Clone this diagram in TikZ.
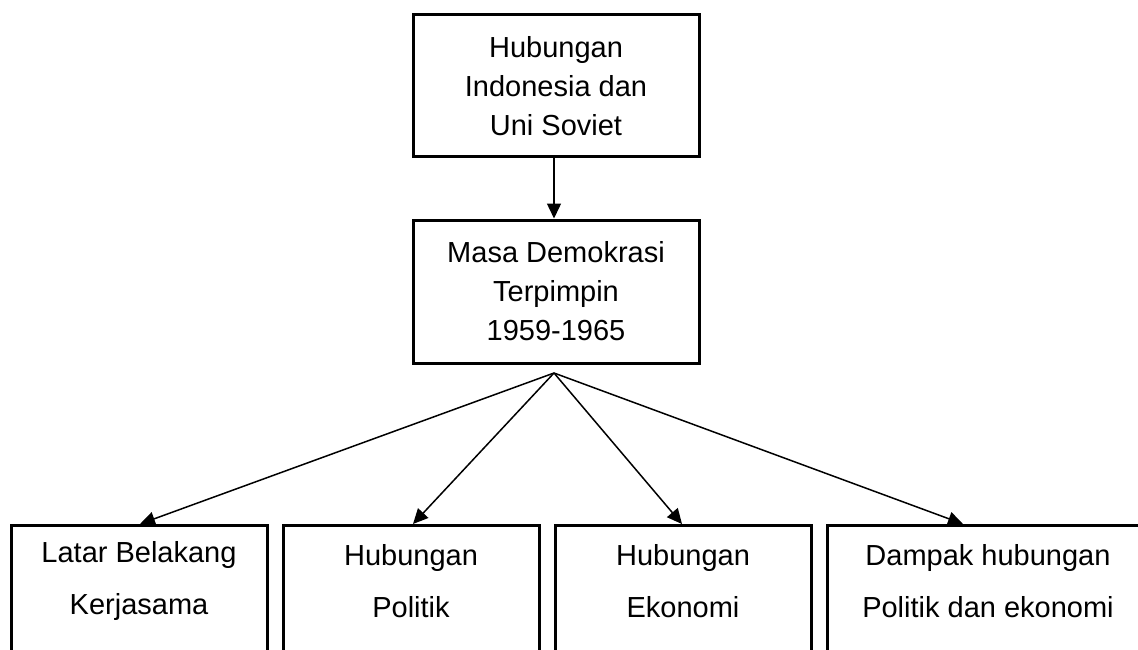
\documentclass[tikz,border=0pt]{standalone}
\usepackage{fontspec}
\setmainfont{Liberation Sans}
\usetikzlibrary{arrows.meta,calc}
\begin{document}
\begin{tikzpicture}[x=1pt,y=-1pt,
  box/.style={draw=black,line width=3pt,rectangle,inner sep=0pt,align=center,
    font=\fontsize{29}{39}\selectfont},
  bottxt/.style={inner sep=0pt,align=center,font=\fontsize{29}{52}\selectfont},
  conn/.style={line width=1.5pt,-{Triangle[length=15pt,width=14pt]}}]
\useasboundingbox (0,0) rectangle (1138,650);
\clip (0,0) rectangle (1138,650);
\node[box,minimum width=286pt,minimum height=142pt] (top) at (556,86)
  {Hubungan\\Indonesia dan\\Uni Soviet};
\node[box,minimum width=286pt,minimum height=143pt] (mid) at (556,291.5)
  {Masa Demokrasi\\Terpimpin\\1959-1965};
\coordinate (fan) at (554,373);
\node[box,minimum width=256pt,minimum height=150pt,anchor=north] (b1) at (139,524) {};
\node[box,minimum width=256pt,minimum height=150pt,anchor=north] (b2) at (411,524) {};
\node[box,minimum width=256pt,minimum height=150pt,anchor=north] (b3) at (683,524) {};
\node[box,minimum width=322pt,minimum height=150pt,anchor=north] (b4) at (988,524) {};
\node[bottxt] (t1) at (139,581) {Latar Belakang\\Kerjasama};
\node[bottxt] (t2) at (411,581) {Hubungan\\Politik};
\node[bottxt] (t3) at (683,581) {Hubungan\\Ekonomi};
\node[bottxt] (t4) at (988,581) {Dampak hubungan\\Politik dan ekonomi};
\draw[conn] ($(top.south)+(-2,0)$) -- ($(mid.north)+(-2,0)$);
\draw[conn] (fan) -- ($(b1.north)+(1,0)$);
\draw[conn] (fan) -- ($(b2.north)+(2,0)$);
\draw[conn] (fan) -- ($(b3.north)+(-1,0)$);
\draw[conn] (fan) -- ($(b4.north)+(-25,0)$);
\end{tikzpicture}
\end{document}
